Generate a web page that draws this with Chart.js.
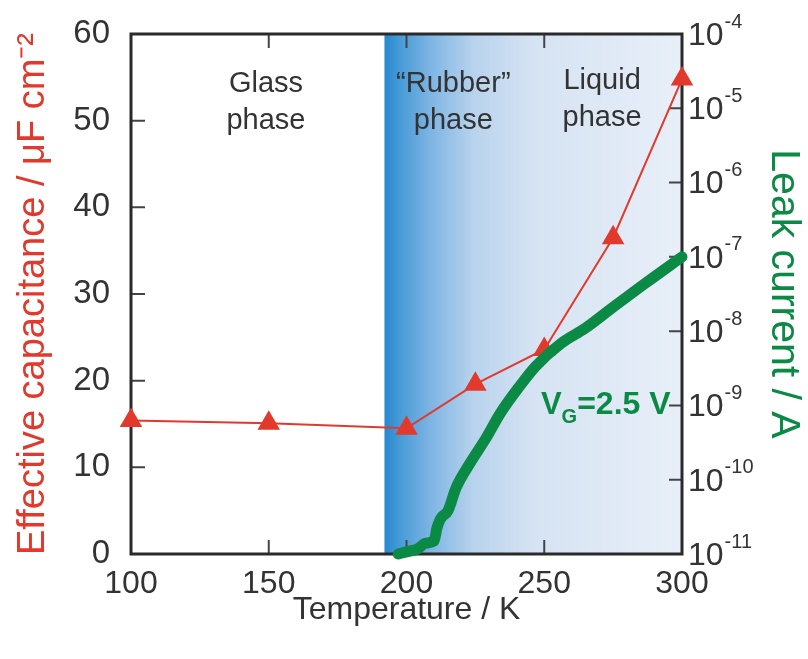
<!DOCTYPE html>
<html>
<head>
<meta charset="utf-8">
<script src="https://cdn.jsdelivr.net/npm/chart.js@4/dist/chart.umd.min.js"></script>
<style>
  html, body { margin: 0; padding: 0; background: #fff; }
  #wrap { width: 808px; height: 659px; }
</style>
</head>
<body>
<div id="wrap"><canvas id="chart" width="808" height="659"></canvas></div>
<script>
// Temperature axis (K)
const tempTicks = [100, 150, 200, 250, 300];

// Effective capacitance (uF cm-2), red triangles
const capTemps = [100, 150, 200, 225, 250, 275, 300];
const capValues = [15.4, 15.1, 14.5, 19.6, 23.6, 36.5, 54.8];
const capTicks = [0, 10, 20, 30, 40, 50, 60];

// Leak current (A) at VG = 2.5 V, green curve
const leakTemps = [197, 200, 204, 207, 210, 211, 212, 213, 215, 218, 223, 229, 234, 241, 247, 256, 265, 275, 287, 300];
const leakValues = [1.0e-11, 1.07e-11, 1.17e-11, 1.4e-11, 1.5e-11, 2.2e-11, 2.8e-11, 3.2e-11, 3.8e-11, 7.8e-11,
  1.66e-10, 3.7e-10, 7.8e-10, 1.8e-9, 3.4e-9, 6.8e-9, 1.1e-8, 2.1e-8, 4.5e-8, 1.0e-7];
const leakTicks = [1e-11, 1e-10, 1e-9, 1e-8, 1e-7, 1e-6, 1e-5, 1e-4];

// Start of the "rubber" region (K)
const rubberStart = 192;

const FONT = "'Liberation Sans', Arial, Helvetica, sans-serif";
const RED = '#e2392d';
const GREEN = '#0b8a45';
const TEXT = '#333';

// phase captions, in data units (T, capacitance)
const phaseNotes = [
  { lines: ['Glass', 'phase'], t: 149, c: 54.2 },
  { lines: ['\u201CRubber\u201D', 'phase'], t: 217, c: 54.2 },
  { lines: ['Liquid', 'phase'], t: 271, c: 54.6 }
];

// background gradient + frame + inward ticks
const backdrop = {
  id: 'backdrop',
  beforeDatasetsDraw(chart) {
    const { ctx, chartArea: a, scales } = chart;
    ctx.save();

    const x0 = scales.x.getPixelForValue(rubberStart);
    const g = ctx.createLinearGradient(x0, 0, a.right, 0);
    g.addColorStop(0, 'rgb(38,136,208)');
    g.addColorStop(0.05, 'rgb(70,154,215)');
    g.addColorStop(0.16, 'rgb(128,182,228)');
    g.addColorStop(0.3, 'rgb(184,211,237)');
    g.addColorStop(0.5, 'rgb(214,227,243)');
    g.addColorStop(1, 'rgb(232,239,248)');
    ctx.fillStyle = g;
    ctx.fillRect(x0, a.top, a.right - x0, a.bottom - a.top);

    // phase labels
    ctx.fillStyle = TEXT;
    ctx.font = '29px ' + FONT;
    ctx.textAlign = 'center';
    ctx.textBaseline = 'middle';
    phaseNotes.forEach((n) => {
      const px = scales.x.getPixelForValue(n.t);
      const py = scales.y.getPixelForValue(n.c);
      n.lines.forEach((s, i) => ctx.fillText(s, px, py + i * 37));
    });

    // inward tick marks
    ctx.strokeStyle = '#444';
    ctx.lineWidth = 2;
    ctx.beginPath();
    tempTicks.slice(1, -1).forEach((t) => {
      const px = scales.x.getPixelForValue(t);
      ctx.moveTo(px, a.bottom);
      ctx.lineTo(px, a.bottom - 14);
      ctx.moveTo(px, a.top);
      ctx.lineTo(px, a.top + 14);
    });
    capTicks.slice(1, -1).forEach((v) => {
      const py = scales.y.getPixelForValue(v);
      ctx.moveTo(a.left, py);
      ctx.lineTo(a.left + 14, py);
    });
    leakTicks.slice(1, -1).forEach((v) => {
      const py = scales.y2.getPixelForValue(v);
      ctx.moveTo(a.right, py);
      ctx.lineTo(a.right - 13, py);
    });
    ctx.stroke();

    // frame
    ctx.strokeStyle = '#2a2a2a';
    ctx.lineWidth = 3;
    ctx.strokeRect(a.left, a.top, a.right - a.left, a.bottom - a.top);
    ctx.restore();
  },
  afterDraw(chart) {
    const { ctx, chartArea: a, scales } = chart;
    ctx.save();
    // right axis labels 10^n
    ctx.fillStyle = TEXT;
    ctx.textAlign = 'left';
    ctx.textBaseline = 'middle';
    leakTicks.forEach((v) => {
      const py = scales.y2.getPixelForValue(v);
      const x = a.right + 6;
      ctx.font = '32px ' + FONT;
      ctx.fillText('10', x, py + 2);
      const w = ctx.measureText('10').width;
      ctx.font = '20px ' + FONT;
      ctx.fillText('-' + Math.round(-Math.log10(v)), x + w + 1, py - 12);
    });

    // VG label
    const vx = scales.x.getPixelForValue(248.8);
    const vy = scales.y.getPixelForValue(16.2);
    ctx.fillStyle = GREEN;
    ctx.textBaseline = 'alphabetic';
    ctx.font = 'bold 31px ' + FONT;
    ctx.fillText('V', vx, vy);
    let cx = vx + ctx.measureText('V').width;
    ctx.font = 'bold 20px ' + FONT;
    ctx.fillText('G', cx, vy + 9);
    cx += ctx.measureText('G').width;
    ctx.font = 'bold 32px ' + FONT;
    ctx.fillText('=2.5 V', cx, vy);
    ctx.restore();
  }
};

new Chart(document.getElementById('chart'), {
  type: 'line',
  data: {
    datasets: [
      {
        label: 'Leak current',
        data: leakTemps.map((t, i) => ({ x: t, y: leakValues[i] })),
        yAxisID: 'y2',
        borderColor: GREEN,
        borderWidth: 11,
        borderCapStyle: 'round',
        borderJoinStyle: 'round',
        pointRadius: 0,
        cubicInterpolationMode: 'monotone',
        clip: false,
        order: 0
      },
      {
        label: 'Effective capacitance',
        data: capTemps.map((t, i) => ({ x: t, y: capValues[i] })),
        yAxisID: 'y',
        borderColor: RED,
        backgroundColor: RED,
        borderWidth: 2,
        pointStyle: 'triangle',
        pointRadius: 13,
        pointBorderWidth: 0,
        clip: false,
        order: 1
      }
    ]
  },
  options: {
    responsive: false,
    animation: false,
    layout: { padding: { top: 34, left: 0, right: 0, bottom: 0 } },
    plugins: { legend: { display: false }, tooltip: { enabled: false } },
    scales: {
      x: {
        type: 'linear',
        min: 100,
        max: 300,
        afterBuildTicks: (s) => { s.ticks = tempTicks.map((v) => ({ value: v })); },
        afterFit: (s) => { s.height = 105; },
        grid: { display: false },
        border: { display: false },
        ticks: { color: TEXT, font: { size: 32, family: FONT }, padding: 3, maxRotation: 0 },
        title: {
          display: true,
          text: 'Temperature / K',
          color: TEXT,
          font: { size: 32, family: FONT },
          padding: { bottom: 30 }
        }
      },
      y: {
        position: 'left',
        min: 0,
        max: 60,
        afterBuildTicks: (s) => { s.ticks = capTicks.map((v) => ({ value: v })); },
        afterFit: (s) => { s.width = 131; },
        grid: { display: false },
        border: { display: false },
        ticks: { color: TEXT, font: { size: 33, family: FONT }, padding: 13 },
        title: {
          display: true,
          text: 'Effective capacitance / \u03BCF cm\u207B\u00B2',
          color: RED,
          font: { size: 38, family: FONT },
          padding: { top: 11 }
        }
      },
      y2: {
        type: 'logarithmic',
        position: 'right',
        min: 1e-11,
        max: 1e-4,
        afterBuildTicks: (s) => { s.ticks = leakTicks.map((v) => ({ value: v })); },
        afterFit: (s) => { s.width = 126; },
        grid: { display: false },
        border: { display: false },
        ticks: { display: false },
        title: {
          display: true,
          text: 'Leak current / A',
          color: GREEN,
          font: { size: 41, family: FONT },
          padding: { top: 0 }
        }
      }
    }
  },
  plugins: [backdrop]
});
</script>
</body>
</html>
